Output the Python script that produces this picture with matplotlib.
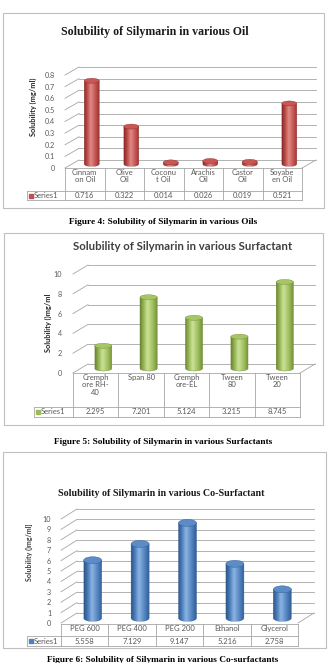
import matplotlib.pyplot as plt
import numpy as np
from matplotlib.colors import LinearSegmentedColormap
from matplotlib.patches import Ellipse, PathPatch, Rectangle
from matplotlib.path import Path

W, H = 329, 663

# data
oil_names = ["Cinnam\non Oil", "Olive\nOil", "Coconu\nt Oil", "Arachis\nOil", "Castor\nOil", "Soyabe\nen Oil"]
oil_values = [0.716, 0.322, 0.014, 0.026, 0.019, 0.521]
oil_ticks = [0, 0.1, 0.2, 0.3, 0.4, 0.5, 0.6, 0.7, 0.8]

surf_names = ["Cremph\nore RH-\n40", "Span 80", "Cremph\nore-EL", "Tween\n80", "Tween\n20"]
surf_values = [2.295, 7.201, 5.124, 3.215, 8.745]
surf_ticks = [0, 2, 4, 6, 8, 10]

cosurf_names = ["PEG 600", "PEG 400", "PEG 200", "Ethanol", "Glycerol"]
cosurf_values = [5.558, 7.129, 9.147, 5.216, 2.758]
cosurf_ticks = [0, 1, 2, 3, 4, 5, 6, 7, 8, 9, 10]

series_label = "Series1"

RED = ["#8a2826", "#c0504d", "#e08a87", "#c0504d", "#922d2a"]
GREEN = ["#6a8532", "#9bbb59", "#cbe29a", "#9bbb59", "#6f8b35"]
BLUE = ["#2a5588", "#4f81bd", "#8cb3e2", "#4f81bd", "#2d5a90"]

GRID = "#a6a6a6"
TXT = "#595959"
SANS = "Lato"
SERIF = "Liberation Serif"


def px_axes(fig, left, top, right, bottom):
    return fig.add_axes([left / W, 1 - bottom / H, (right - left) / W, (bottom - top) / H])


def cylinder(ax, cx, base, top, w, eh, cmap, top_color, edge):
    t = np.linspace(np.pi, 2 * np.pi, 40)
    verts = list(zip(cx + w / 2 * np.cos(t), base + eh / 2 * np.sin(t)))
    verts += [(cx + w / 2, top), (cx - w / 2, top), verts[0]]
    body = PathPatch(Path(np.array(verts), closed=True), facecolor="none", edgecolor="none")
    ax.add_patch(body)
    im = ax.imshow(np.linspace(0, 1, 64)[None, :], cmap=cmap, aspect="auto",
                   extent=(cx - w / 2, cx + w / 2, base - eh / 2, top),
                   interpolation="bilinear", zorder=3)
    im.set_clip_path(body)
    ax.add_patch(PathPatch(Path(np.array(verts), closed=True), facecolor="none",
                           edgecolor=edge, lw=0.25, zorder=3.5, clip_on=False))
    ax.add_patch(Ellipse((cx, top), w, eh, facecolor=top_color, edgecolor=edge,
                         lw=0.25, zorder=4, clip_on=False))


def draw_chart(fig, values, ticks, stops, top_color, edge, box, depth, eh_px, tick_pad):
    # box: left, right, y of zero line, y of top tick (figure pixels)
    x0, x1, y0, y1 = box
    n = len(values)
    ymax = ticks[-1]
    ax = px_axes(fig, x0, y1, x1, y0)
    sx = n / (x1 - x0)
    sy = ymax / (y0 - y1)
    ddx, ddy = depth[0] * sx, depth[1] * sy
    g = dict(color=GRID, lw=0.6, clip_on=False, zorder=1)
    for t in ticks:
        ax.plot([0, ddx], [t, t + ddy], **g)
        ax.plot([ddx, n + ddx], [t + ddy, t + ddy], **g)
    ax.plot([n, n + ddx], [0, ddy], **g)
    cmap = LinearSegmentedColormap.from_list("cyl", list(zip([0, 0.22, 0.42, 0.75, 1], stops)))
    for i, v in enumerate(values):
        cylinder(ax, i + 0.5 + ddx / 2, ddy / 2, v + ddy / 2, 0.38, eh_px * sy,
                 cmap, top_color, edge)
    ax.set_xlim(0, n)
    ax.set_ylim(0, ymax)
    ax.set_xticks([])
    ax.set_yticks(ticks, labels=[f"{t:g}" for t in ticks])
    ax.tick_params(axis="y", length=0, pad=tick_pad, labelsize=5.2, labelcolor=TXT)
    for lab in ax.get_yticklabels():
        lab.set_fontfamily(SANS)
    for s in ax.spines.values():
        s.set_visible(False)
    ax.patch.set_alpha(0)


def draw_table(fig, names, values, header_left, col_left, right, top, h_cat, h_val, color):
    n = len(values)
    col = (right - col_left) / n
    hw = (col_left - header_left) / col
    bottom = h_cat + h_val
    tax = px_axes(fig, header_left, top, right, top + bottom)
    tax.set_xlim(-hw, n)
    tax.set_ylim(bottom, 0)
    tax.axis("off")
    ln = dict(color=GRID, lw=0.6, clip_on=False)
    tax.plot([0, n], [0, 0], **ln)
    tax.plot([-hw, n], [h_cat, h_cat], **ln)
    tax.plot([-hw, n], [bottom, bottom], **ln)
    tax.plot([-hw, -hw], [h_cat, bottom], **ln)
    for k in range(n + 1):
        tax.plot([k, k], [0, bottom], **ln)
    for i, (name, v) in enumerate(zip(names, values)):
        tax.text(i + 0.5, 1.0, name, ha="center", va="top", fontsize=5.5, color=TXT,
                 family=SANS, linespacing=1.05)
        tax.text(i + 0.5, h_cat + h_val / 2, f"{v:.3f}", ha="center", va="center",
                 fontsize=5.5, color=TXT, family=SANS)
    tax.plot([-hw + 4 / col], [h_cat + h_val / 2], marker="s", ms=2.8, color=color,
             clip_on=False)
    tax.text(-hw + 7 / col, h_cat + h_val / 2, series_label, ha="left", va="center",
             fontsize=5.5, color=TXT, family=SANS)


fig = plt.figure(figsize=(W / 100, H / 100), dpi=100)
bg = fig.add_axes([0, 0, 1, 1])
bg.set_xlim(0, W)
bg.set_ylim(H, 0)
bg.axis("off")

for (l, t, r, b) in [(3, 13, 324, 208), (4, 233, 323, 425), (3, 452, 326, 648)]:
    bg.add_patch(Rectangle((l, t), r - l, b - t, facecolor="white", edgecolor="#bfbfbf", lw=0.8))

# chart 1: oils
bg.text(155, 32, "Solubility of Silymarin in various Oil", ha="center", va="center",
        fontsize=8.6, weight="bold", family=SERIF, color="#1a1a1a")
bg.text(33, 107, "Solubility (mg/ml)", rotation=90, ha="center", va="center",
        fontsize=5.3, weight="bold", family=SANS, color="#262626")
draw_chart(fig, oil_values, oil_ticks, RED, "#c85653", "#8a2826",
           (65, 302, 168, 75), (14, 8), 5, 7)
draw_table(fig, oil_names, oil_values, 27, 65, 302, 168, 23, 9, "#c0504d")
bg.text(163, 222, "Figure 4: Solubility of Silymarin in various Oils", ha="center",
        va="center", fontsize=6.7, weight="bold", family=SERIF, color="black")

# chart 2: surfactants
bg.text(183, 247, "Solubility of Silymarin in various Surfactant", ha="center",
        va="center", fontsize=8.2, weight="bold", family=SANS, color="#404040")
bg.text(48, 323, "Solubility ()mg/ml", rotation=90, ha="center", va="center",
        fontsize=5.3, weight="bold", family=SANS, color="#262626")
draw_chart(fig, surf_values, surf_ticks, GREEN, "#a6c564", "#6a8532",
           (73, 300, 373, 274), (15, 9), 5, 8)
draw_table(fig, surf_names, surf_values, 34, 73, 300, 373, 34, 10, "#9bbb59")
bg.text(163, 442, "Figure 5: Solubility of Silymarin in various Surfactants", ha="center",
        va="center", fontsize=6.7, weight="bold", family=SERIF, color="black")

# chart 3: co-surfactants
bg.text(161, 493, "Solubility of Silymarin in various Co-Surfactant", ha="center",
        va="center", fontsize=7.2, weight="bold", family=SERIF, color="#1a1a1a")
bg.text(29, 552, "Solubility ()mg/ml]", rotation=90, ha="center", va="center",
        fontsize=5, weight="bold", family=SANS, color="#404040")
draw_chart(fig, cosurf_values, cosurf_ticks, BLUE, "#5b8cc8", "#2a5588",
           (61, 298, 623, 519), (16, 10), 7, 7)
draw_table(fig, cosurf_names, cosurf_values, 27, 61, 298, 624, 12, 10, "#4f81bd")
bg.text(163, 660, "Figure 6: Solubility of Silymarin in various Co-surfactants", ha="center",
        va="center", fontsize=6.7, weight="bold", family=SERIF, color="black")

fig.savefig("out.png", dpi=100)
